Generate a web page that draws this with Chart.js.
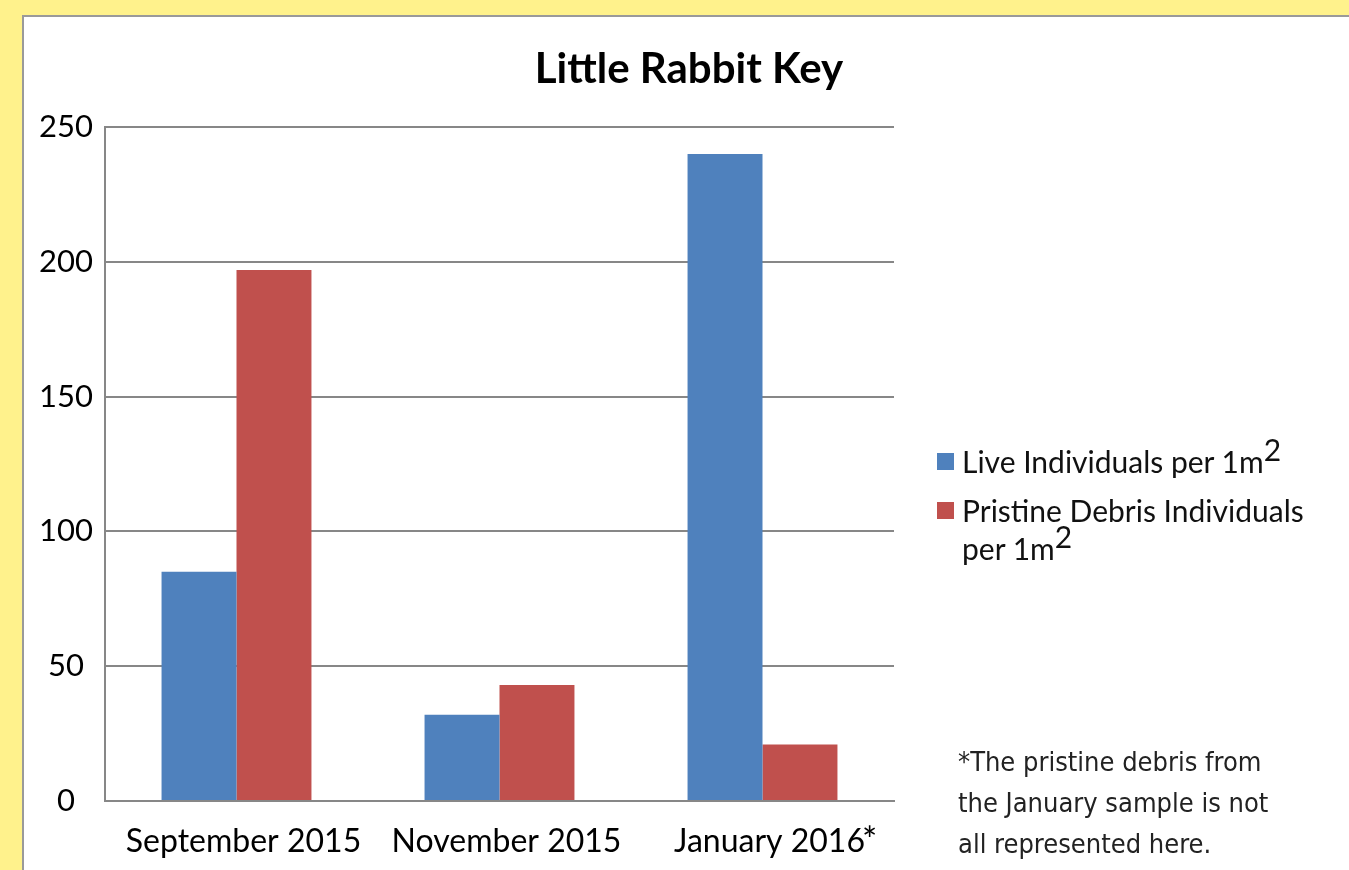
<!DOCTYPE html>
<html>
<head>
<meta charset="utf-8">
<script src="https://cdn.jsdelivr.net/npm/chart.js@4.4.1/dist/chart.umd.min.js"></script>
<style>
  html, body { margin: 0; padding: 0; }
  body { width: 1349px; height: 870px; background: #fff28c; overflow: hidden; position: relative; font-family: Lato, "Noto Sans", sans-serif; }
  #panel { position: absolute; left: 22px; top: 15px; width: 1340px; height: 870px; background: #fff; border: 2px solid #9a9a9a; }
  #wrap { position: absolute; left: 0; top: 0; width: 1330px; height: 853px; }
  #legend { position: absolute; left: 913px; top: 425px; font-size: 30px; color: #111; }
  #legend .item { position: relative; padding-left: 25px; line-height: 38px; margin-bottom: 11px; white-space: nowrap; }
  #legend .box { position: absolute; left: 0; top: 11px; width: 17px; height: 17px; }
  #legend sup { font-size: 30px; line-height: 0; vertical-align: 12px; }
  #note { position: absolute; left: 934px; top: 724px; font-family: "Liberation Sans Narrow", "DejaVu Sans Condensed", sans-serif; font-size: 27px; line-height: 41px; color: #222; }
</style>
</head>
<body>
<div id="panel">
  <div id="wrap"><canvas id="chart"></canvas></div>
  <div id="legend"></div>
  <div id="note">*The pristine debris from<br>the January sample is not<br>all represented here.</div>
</div>
<script>
// data
const categories = ['September 2015', 'November 2015', 'January 2016'];
const footnoteMarks = ['', '', '*'];
const liveValues = [85, 32, 240];
const debrisValues = [197, 43, 21];
const seriesNames = ['Live Individuals per 1m²', 'Pristine Debris Individuals per 1m²'];
const yTicks = [0, 50, 100, 150, 200, 250];

const colors = { blue: '#4f81bd', red: '#c0504d', grid: '#878787' };
const fontFamily = "Lato, 'Noto Sans', sans-serif";

// superscript asterisk after a category label
const footnotePlugin = {
  id: 'footnoteMarks',
  afterDraw(chart) {
    const xs = chart.scales.x;
    const ctx = chart.ctx;
    const t = xs.options.ticks;
    const size = t.font.size;
    const mid = xs.top + t.padding + size * 1.2 / 2;
    ctx.save();
    footnoteMarks.forEach((m, i) => {
      if (!m) return;
      ctx.font = size + 'px ' + fontFamily;
      const w = ctx.measureText(categories[i]).width;
      const x = xs.getPixelForTick(i) + t.labelOffset + w / 2 - 3;
      ctx.font = '36px ' + fontFamily;
      ctx.fillStyle = '#000';
      ctx.textAlign = 'left';
      ctx.textBaseline = 'middle';
      ctx.fillText(m, x, mid + 8);
    });
    ctx.restore();
  }
};

const chart = new Chart(document.getElementById('chart'), {
  type: 'bar',
  data: {
    labels: categories,
    datasets: [{
      label: seriesNames[0],
      data: liveValues,
      backgroundColor: colors.blue,
      categoryPercentage: 0.57,
      barPercentage: 1.0
    }, {
      label: seriesNames[1],
      data: debrisValues,
      backgroundColor: colors.red,
      categoryPercentage: 0.57,
      barPercentage: 1.0
    }]
  },
  options: {
    responsive: true,
    maintainAspectRatio: false,
    animation: false,
    layout: { padding: 0 },
    plugins: {
      legend: { display: false },
      tooltip: { enabled: false },
      title: {
        display: true,
        text: 'Little Rabbit Key',
        color: '#000',
        font: { family: fontFamily, size: 42, weight: 'bold', lineHeight: 1.2 },
        padding: { top: 27, bottom: 32.6 }
      }
    },
    scales: {
      x: {
        grid: { display: false },
        border: { display: true, color: colors.grid, width: 2 },
        ticks: { color: '#000', font: { family: fontFamily, size: 32 }, padding: 13, labelOffset: 7 },
        afterFit(scale) { scale.height = 69; }
      },
      y: {
        min: 0,
        max: 250,
        afterBuildTicks(scale) { scale.ticks = yTicks.map(v => ({ value: v })); },
        grid: { color: colors.grid, lineWidth: 2, drawTicks: false },
        border: { display: true, color: colors.grid, width: 2 },
        ticks: { color: '#000', font: { family: fontFamily, size: 31 }, padding: 12, crossAlign: 'center' },
        afterFit(scale) { scale.width = 81; }
      },
      // empty axis that keeps room for the legend and note on the right
      side: {
        position: 'right',
        grid: { display: false },
        border: { display: false },
        ticks: { display: false },
        afterFit(scale) { scale.width = 460; }
      }
    }
  },
  plugins: [footnotePlugin]
});

// html legend built from the datasets
const legendEl = document.getElementById('legend');
chart.data.datasets.forEach((ds, i) => {
  const item = document.createElement('div');
  item.className = 'item';
  const box = document.createElement('span');
  box.className = 'box';
  box.style.background = ds.backgroundColor;
  item.appendChild(box);
  const text = document.createElement('span');
  let html = ds.label.replace('²', '<sup>2</sup>');
  if (i === 1) html = html.replace('Individuals per', 'Individuals<br>per');
  text.innerHTML = html;
  item.appendChild(text);
  legendEl.appendChild(item);
});
</script>
</body>
</html>
